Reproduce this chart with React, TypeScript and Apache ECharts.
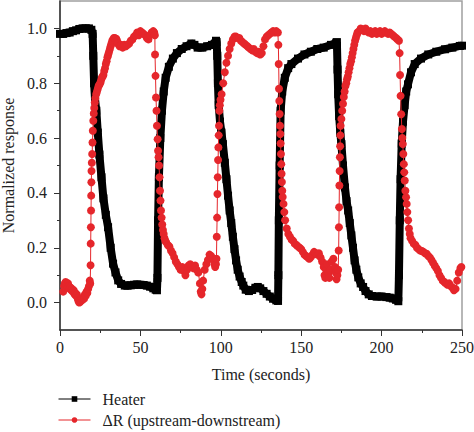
import React, { useEffect, useRef } from "react";
import * as echarts from "echarts";

const FONT = "Liberation Serif";

const xTicks = { min: 0, max: 250, step: 50 };
const yRange = { min: -0.1, max: 1.1 };
const yMajorTicks = [0, 0.2, 0.4, 0.6, 0.8, 1.0];
const yMinorTicks = [0.1, 0.3, 0.5, 0.7, 0.9];
const seriesNames = ["Heater", "ΔR (upstream-downstream)"];
const xTitle = "Time (seconds)";
const yTitle = "Normalized response";

// Heater: [time (s), normalized response]
const heaterPoints: [number, number][] = [
  [0, 0.98], [2, 0.98], [4, 0.983], [6, 0.985], [8, 0.99], [10, 0.993], [12, 0.998], [14, 1.0], [16, 1.0], [18, 1.0], [19.5, 0.995], [20.3, 0.98],
  [20.7, 0.9], [21.2, 0.8], [21.8, 0.74], [22.6, 0.7], [23.5, 0.62], [24.5, 0.54], [25.8, 0.457], [27, 0.38], [28.5, 0.32], [29.9, 0.275], [31.5, 0.2], [33, 0.142], [34.5, 0.11], [36.2, 0.081], [38, 0.068], [40.3, 0.062],
  [42, 0.062], [44, 0.063], [46, 0.065], [48, 0.066], [50, 0.065], [52, 0.064], [54, 0.062], [56, 0.058], [58, 0.052], [59.5, 0.047], [60.3, 0.045],
  [60.6, 0.09], [61.0, 0.3], [61.5, 0.457], [62.4, 0.6], [63.4, 0.7], [64.5, 0.77], [65.7, 0.82], [67.7, 0.86], [70.2, 0.89], [72.7, 0.91], [75.7, 0.925], [78.7, 0.935], [81.7, 0.945], [83.6, 0.94], [85.6, 0.93], [88.5, 0.93], [91.5, 0.935], [94.5, 0.94], [97, 0.955], [97.4, 0.95],
  [97.8, 0.9], [98.2, 0.8], [98.7, 0.72], [99.5, 0.66], [100.4, 0.62], [101.3, 0.578], [102.5, 0.51], [103.5, 0.45], [104.5, 0.39], [105.5, 0.336], [106.5, 0.29], [107.5, 0.24], [108.5, 0.195], [109.5, 0.154], [110.5, 0.12], [111.7, 0.095], [113, 0.075], [114, 0.062],
  [115.5, 0.047], [117.5, 0.042], [119.5, 0.046], [121.5, 0.054], [123, 0.057], [124.5, 0.052], [126.5, 0.042], [128.5, 0.032], [130.5, 0.022], [132.5, 0.014], [134.5, 0.008], [135.6, 0.006],
  [135.8, 0.1], [136.1, 0.3], [136.6, 0.5], [137.2, 0.7], [138.2, 0.77], [139.8, 0.82], [141.9, 0.855], [143.9, 0.87], [148, 0.89], [152, 0.905], [156, 0.915], [160, 0.925], [164, 0.93], [168.5, 0.94], [171.8, 0.948],
  [172.2, 0.95], [172.6, 0.85], [173.0, 0.76], [173.6, 0.68], [174.3, 0.62], [175.0, 0.578], [176.0, 0.5], [177.2, 0.42], [178.2, 0.37], [179.2, 0.336], [180.2, 0.29], [181.2, 0.245], [182.2, 0.2], [183.2, 0.154], [184.3, 0.12], [185.5, 0.092], [187, 0.07], [188.5, 0.057], [190, 0.042], [192, 0.03], [194, 0.024], [197, 0.022], [200, 0.022], [203, 0.02], [205, 0.018], [207, 0.015], [209, 0.01], [210.4, 0.005],
  [210.8, 0.1], [211.3, 0.3], [211.8, 0.45], [212.5, 0.58], [213.3, 0.66], [214.3, 0.72], [215.3, 0.77], [216.4, 0.796], [218.3, 0.84], [220.6, 0.87], [224.5, 0.89], [229, 0.905], [234, 0.915], [239.4, 0.924], [244, 0.93], [248.7, 0.936], [250, 0.937],
];

// ΔR (upstream-downstream): [time (s), normalized response]
const deltaRPoints: [number, number][] = [
  [2.0, 0.04], [2.5, 0.06], [3.0, 0.07], [3.5, 0.075], [4.0, 0.07], [4.5, 0.06], [5.0, 0.07], [5.5, 0.06], [6.0, 0.05], [6.5, 0.055], [7.0, 0.045], [7.5, 0.05], [8.0, 0.04], [8.5, 0.045], [9.0, 0.03], [9.5, 0.035], [10.0, 0.025], [10.5, 0.03], [11.0, 0.015], [11.5, 0.005], [12.0, 0.0], [12.5, 0.01], [13.0, 0.005], [13.5, 0.015], [14.0, 0.01], [14.5, 0.02], [15.0, 0.015], [15.5, 0.03], [16.0, 0.025], [16.5, 0.04], [17.0, 0.035], [17.5, 0.05], [18.0, 0.06], [18.5, 0.08], [18.8, 0.07],
  [19.0, 0.136], [19.1, 0.215], [19.2, 0.275], [19.3, 0.336], [19.4, 0.39], [19.5, 0.439], [19.6, 0.48], [19.8, 0.51], [20.0, 0.542], [20.2, 0.584], [20.4, 0.627], [20.7, 0.663], [21.0, 0.69], [21.3, 0.71], [21.6, 0.73], [22.0, 0.745], [22.5, 0.76],
  [23.0, 0.77], [23.5, 0.78], [24.0, 0.79], [24.5, 0.795], [25.0, 0.8], [25.5, 0.81], [26.0, 0.82], [26.5, 0.825], [27.0, 0.83], [27.5, 0.845], [28.0, 0.855], [28.5, 0.87], [29.0, 0.88], [29.5, 0.895], [30.0, 0.905], [30.5, 0.915], [31.0, 0.925], [31.5, 0.935], [32.0, 0.945], [32.5, 0.955], [33.0, 0.96], [33.5, 0.965], [34.0, 0.965], [34.5, 0.96], [35.0, 0.962], [35.5, 0.955], [36.0, 0.945], [37.0, 0.935], [38.0, 0.94], [39.0, 0.93], [40.0, 0.94], [41.0, 0.935], [42.0, 0.94], [43.0, 0.945], [44.0, 0.955], [45.0, 0.96], [46.0, 0.97], [47.0, 0.975], [48.0, 0.985], [49.0, 0.975], [50.0, 0.99], [51.0, 0.985], [52.0, 0.98], [53.0, 0.975], [54.0, 0.965], [55.0, 0.96], [56.0, 0.975], [57.0, 0.985], [58.0, 0.99], [58.6, 0.985], [59.0, 0.975],
  [59.1, 0.905], [59.4, 0.827], [59.7, 0.748], [60.0, 0.7], [60.3, 0.645], [60.7, 0.596], [61.0, 0.554], [61.3, 0.53], [61.6, 0.5], [61.9, 0.457], [62.2, 0.408], [62.5, 0.372], [62.8, 0.336],
  [63.2, 0.31], [63.6, 0.285], [64.0, 0.265], [64.5, 0.25], [65.0, 0.235], [65.5, 0.225], [66.0, 0.22], [67.0, 0.21], [68.0, 0.205], [69.0, 0.19], [70.0, 0.18], [71.0, 0.165], [72.0, 0.15], [73.0, 0.14], [74.0, 0.13], [75.0, 0.12], [76.0, 0.13], [77.0, 0.115], [78.0, 0.1], [79.0, 0.12], [80.0, 0.135], [81.0, 0.14], [82.0, 0.13], [83.0, 0.125], [84.0, 0.135], [85.0, 0.12], [86.0, 0.11], [87.0, 0.07], [87.5, 0.04], [88.0, 0.03], [88.5, 0.05], [89.0, 0.08], [90.0, 0.12], [91.0, 0.14], [92.0, 0.155], [93.0, 0.175], [94.0, 0.17], [95.0, 0.16], [96.0, 0.14], [96.5, 0.13], [97.0, 0.14], [97.3, 0.16],
  [97.5, 0.24], [97.7, 0.31], [97.9, 0.396], [98.1, 0.457], [98.3, 0.52], [98.5, 0.566], [98.7, 0.61], [98.9, 0.645], [99.1, 0.7], [99.4, 0.72], [99.8, 0.74],
  [100.5, 0.76], [101.5, 0.8], [102.5, 0.84], [103.5, 0.875], [104.5, 0.9], [105.5, 0.925], [106.5, 0.945], [107.5, 0.96], [108.5, 0.97], [109.5, 0.97], [110.5, 0.965], [111.5, 0.965], [112.5, 0.955], [113.5, 0.95], [114.5, 0.945], [115.5, 0.94], [116.5, 0.935], [117.5, 0.93], [118.5, 0.925], [119.5, 0.92], [120.5, 0.925], [121.5, 0.915], [122.5, 0.91], [123.5, 0.915], [124.5, 0.905], [125.5, 0.91], [126.5, 0.935], [127.5, 0.96], [128.5, 0.97], [129.5, 0.975], [130.5, 0.98], [131.5, 0.985], [132.5, 0.99], [133.5, 0.985], [134.5, 0.99], [135.5, 0.985],
  [135.8, 0.94], [136.0, 0.87], [136.2, 0.78], [136.4, 0.735], [136.6, 0.688], [136.8, 0.645], [137.0, 0.615], [137.2, 0.58], [137.4, 0.542], [137.6, 0.505], [137.8, 0.47], [138.0, 0.44], [138.2, 0.408], [138.5, 0.385],
  [139.0, 0.36], [139.5, 0.33], [140.0, 0.3], [141.0, 0.27], [142.0, 0.25], [143.0, 0.24], [144.0, 0.23], [145.0, 0.225], [146.0, 0.215], [147.0, 0.21], [148.0, 0.205], [149.0, 0.2], [150.0, 0.195], [151.0, 0.185], [152.0, 0.175], [153.0, 0.17], [154.0, 0.165], [155.0, 0.16], [156.0, 0.165], [157.0, 0.175], [158.0, 0.185], [159.0, 0.18], [160.0, 0.175], [161.0, 0.18], [162.0, 0.165], [163.0, 0.15], [164.0, 0.13], [164.5, 0.1], [165.0, 0.09], [165.5, 0.12], [166.0, 0.14], [167.0, 0.11], [167.5, 0.09], [168.0, 0.12], [169.0, 0.15], [170.0, 0.16], [171.0, 0.13], [171.5, 0.11], [172.0, 0.085], [172.5, 0.1], [173.0, 0.12],
  [173.3, 0.19], [173.45, 0.275], [173.6, 0.348], [173.75, 0.427], [173.9, 0.48], [174.05, 0.53], [174.2, 0.57], [174.35, 0.61], [174.5, 0.645],
  [175.0, 0.67], [175.5, 0.7], [176.0, 0.725], [176.5, 0.75], [177.0, 0.77], [177.5, 0.79], [178.0, 0.8], [178.5, 0.815], [179.0, 0.825], [179.5, 0.84], [180.0, 0.855], [180.5, 0.87], [181.0, 0.88], [181.5, 0.895], [182.0, 0.91], [182.5, 0.925], [183.0, 0.94], [183.5, 0.955], [184.0, 0.965], [184.5, 0.975], [185.0, 0.985], [186.0, 0.99], [187.0, 1.0], [188.0, 0.995], [189.0, 0.99], [190.0, 1.0], [191.0, 0.99], [192.0, 0.985], [193.0, 0.99], [194.0, 0.98], [195.0, 0.985], [196.0, 0.99], [197.0, 0.98], [198.0, 0.985], [199.0, 0.99], [200.0, 0.98], [201.0, 0.985], [202.0, 0.99], [203.0, 0.985], [204.0, 0.98], [205.0, 0.985], [206.0, 0.98], [207.0, 0.975], [208.0, 0.97], [209.0, 0.965], [210.0, 0.96], [210.8, 0.955],
  [211.2, 0.91], [211.5, 0.83], [211.8, 0.754], [212.2, 0.687], [212.6, 0.633], [212.9, 0.6], [213.2, 0.578], [213.5, 0.542], [213.8, 0.505], [214.1, 0.475], [214.4, 0.445], [214.8, 0.408], [215.2, 0.384],
  [215.6, 0.36], [216.0, 0.33], [216.5, 0.3], [217.0, 0.27], [217.5, 0.25], [218.0, 0.235], [219.0, 0.225], [220.0, 0.215], [221.0, 0.21], [222.0, 0.2], [223.0, 0.195], [224.0, 0.19], [225.0, 0.188], [226.0, 0.185], [227.0, 0.18], [228.0, 0.178], [229.0, 0.17], [230.0, 0.165], [231.0, 0.155], [232.0, 0.145], [233.0, 0.135], [234.0, 0.125], [235.0, 0.115], [236.0, 0.1], [237.0, 0.09], [238.0, 0.08], [239.0, 0.075], [240.0, 0.07], [241.0, 0.065], [242.0, 0.07], [243.0, 0.06], [244.0, 0.055], [245.0, 0.045], [246.0, 0.05], [247.0, 0.08], [248.0, 0.11], [249.0, 0.125], [249.6, 0.13],
];

const RED = "#e5262b";
const AXIS = "#333";

export default function App() {
  const ref = useRef<HTMLDivElement>(null);
  useEffect(() => {
    if (!ref.current) return;
    const chart = echarts.init(ref.current, undefined, { renderer: "svg" });
    const textStyle = { fontFamily: FONT, fontSize: 16, fontWeight: "normal", color: "#222" };
    chart.setOption({
      animation: false,
      backgroundColor: "#fff",
      grid: {
        left: 60, right: 12, top: 1, bottom: 102,
        outerBoundsMode: "none", containLabel: false,
        show: true, borderColor: "#a0a0a0", borderWidth: 1.5,
      },
      xAxis: {
        type: "value",
        min: xTicks.min,
        max: xTicks.max,
        interval: xTicks.step,
        name: xTitle,
        nameLocation: "middle",
        nameGap: 36,
        nameTextStyle: textStyle,
        axisLine: { show: true, onZero: false, lineStyle: { color: AXIS, width: 1.5 } },
        axisTick: { show: true, length: 6, lineStyle: { color: AXIS } },
        minorTick: { show: true, splitNumber: 2, length: 3, lineStyle: { color: AXIS } },
        axisLabel: { ...textStyle, margin: 9 },
        splitLine: { show: false },
        minorSplitLine: { show: false },
      },
      yAxis: [
        {
          type: "value",
          min: yRange.min,
          max: yRange.max,
          name: yTitle,
          nameLocation: "middle",
          nameGap: 44,
          nameTextStyle: textStyle,
          axisLine: { show: true, onZero: false, lineStyle: { color: AXIS, width: 1.5 } },
          axisTick: { show: true, length: 6, customValues: yMajorTicks, lineStyle: { color: AXIS } },
          axisLabel: { ...textStyle, margin: 13, customValues: yMajorTicks, formatter: (v: number) => v.toFixed(1) },
          splitLine: { show: false },
        },
        {
          type: "value",
          position: "left",
          offset: 0,
          min: yRange.min,
          max: yRange.max,
          axisLine: { show: false },
          axisTick: { show: true, length: 3, customValues: yMinorTicks, lineStyle: { color: AXIS } },
          axisLabel: { show: false },
          splitLine: { show: false },
        },
      ],
      legend: {
        orient: "vertical",
        left: 58,
        top: 391,
        height: 41,
        padding: 0,
        itemWidth: 32,
        itemHeight: 7,
        itemGap: 5,
        textStyle: { ...textStyle, padding: [0, 0, 0, 7] },
        lineStyle: { width: 1 },
        data: seriesNames,
      },
      series: [
        {
          type: "line",
          name: seriesNames[0],
          data: heaterPoints,
          yAxisIndex: 0,
          symbol: "square",
          symbolSize: 8,
          lineStyle: { color: "#000", width: 8 },
          itemStyle: { color: "#000" },
          z: 2,
        },
        {
          type: "line",
          name: seriesNames[1],
          data: deltaRPoints,
          yAxisIndex: 0,
          symbol: "circle",
          symbolSize: 8,
          lineStyle: { color: RED, width: 1 },
          itemStyle: { color: RED },
          z: 3,
        },
      ],
    });
    return () => chart.dispose();
  }, []);
  return <div ref={ref} style={{ position: "fixed", left: 0, top: 0, width: 474, height: 432 }} />;
}
